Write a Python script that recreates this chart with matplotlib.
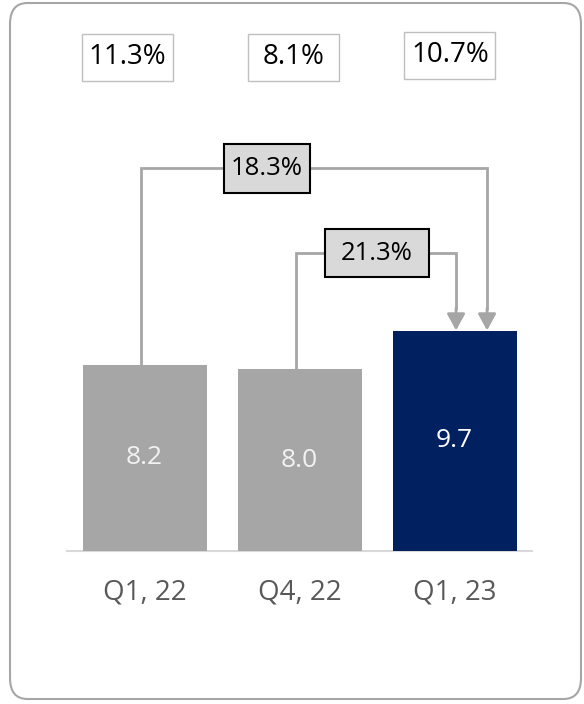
import matplotlib.pyplot as plt
from matplotlib.patches import FancyBboxPatch, Rectangle

plt.rcParams['font.family'] = ['Open Sans', 'DejaVu Sans']

categories = ["Q1, 22", "Q4, 22", "Q1, 23"]
values = [8.2, 8.0, 9.7]
top_labels = ["11.3%", "8.1%", "10.7%"]
growth_labels = ["18.3%", "21.3%"]   # Q1,22 -> Q1,23 and Q4,22 -> Q1,23
bar_colors = ["#A6A6A6", "#A6A6A6", "#002060"]
value_colors = ["#F2F2F2", "#F2F2F2", "#FFFFFF"]

fig = plt.figure(figsize=(5.84, 7.04), dpi=100)

# rounded outer frame
frame = FancyBboxPatch((10 / 584, 5 / 704), 571 / 584, 696 / 704,
                       boxstyle="round,pad=0,rounding_size=0.03",
                       transform=fig.transFigure, facecolor="none",
                       edgecolor="#A6A6A6", linewidth=1.5)
fig.patches.append(frame)

ax = fig.add_axes([67 / 584, 153 / 704, 465 / 584, 531 / 704])
ax.set_xlim(-0.5, 2.5)
ax.set_ylim(0, 23.4)
ax.axis("off")

x = list(range(len(categories)))
line_c = "#A6A6A6"


def label_box(cx, cy, w, h, text, fs, face, edge, lw):
    ax.add_patch(Rectangle((cx - w / 2, cy - h / 2), w, h, facecolor=face,
                           edgecolor=edge, linewidth=lw, zorder=4))
    ax.text(cx, cy, text, ha="center", va="center", fontsize=fs,
            color="black", zorder=5)


# connectors (drawn first, behind the bars)
conn = [(0, 16.87, 2.21, 0.79, 0.56), (1, 13.13, 2.01, 1.5, 0.665)]
for (i0, level, x_end, lab_x, bw), lab in zip(conn, growth_labels):
    ax.plot([x[i0] - 0.02, x[i0] - 0.02, x_end, x_end],
            [0, level, level, values[2] + 0.9], color=line_c, lw=2,
            zorder=1, solid_capstyle="butt", solid_joinstyle="miter")
    ax.annotate("", xy=(x_end, values[2] + 0.02), xytext=(x_end, values[2] + 1.0),
                arrowprops=dict(arrowstyle="-|>,head_length=1.0,head_width=0.55",
                                color=line_c, lw=2, shrinkA=0, shrinkB=0),
                zorder=1)
    label_box(lab_x, level, bw, 2.15, lab, 18.5, "#D9D9D9", "black", 1.5)

bars = ax.bar(x, values, width=0.8, color=bar_colors, zorder=2)

for xi, v, c in zip(x, values, value_colors):
    ax.text(xi, v / 2, f"{v:.1f}", ha="center", va="center",
            fontsize=19, color=c, zorder=3)

# baseline
ax.plot([-0.5, 2.5], [0, 0], color="#D9D9D9", lw=1.5, zorder=1,
        clip_on=False)

for xi, cat in zip(x, categories):
    ax.text(xi, -1.85, cat, ha="center", va="center", fontsize=20,
            color="#595959")

top_x = [-0.11, 0.96, 1.97]
top_y = [21.76, 21.76, 21.85]
for tx, ty, lab in zip(top_x, top_y, top_labels):
    label_box(tx, ty, 0.587, 2.07, lab, 20, "white", "#BFBFBF", 1)

fig.savefig("out.png", dpi=100)
